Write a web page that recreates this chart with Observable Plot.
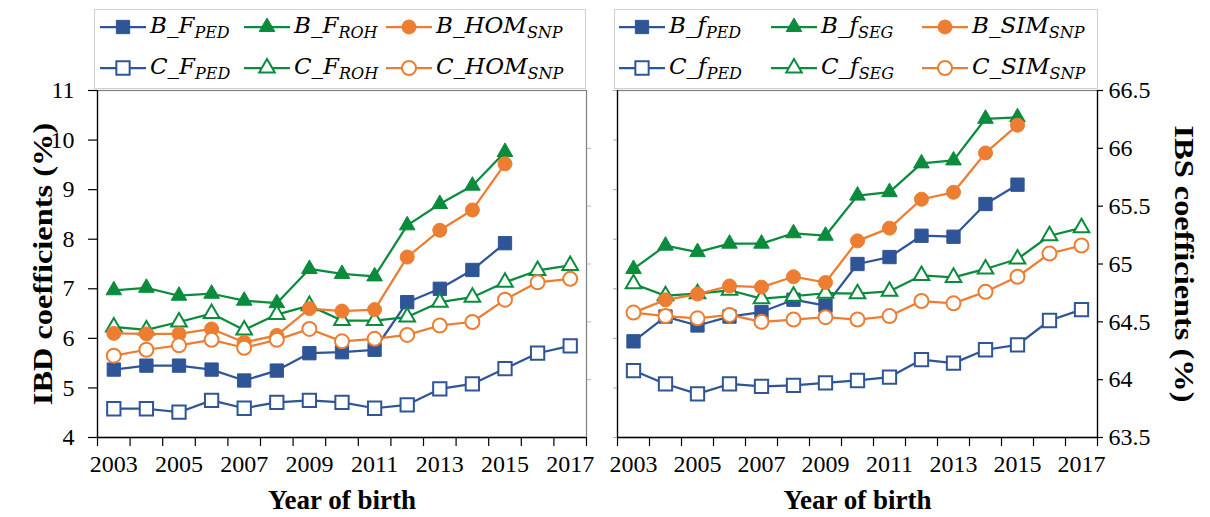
<!DOCTYPE html>
<html><head><meta charset="utf-8">
<script src="https://cdn.jsdelivr.net/npm/d3@7"></script>
<script src="https://cdn.jsdelivr.net/npm/@observablehq/plot@0.6"></script>
<style>
body{margin:0;background:#fff;}
#root{position:relative;width:1210px;height:517px;overflow:hidden;font-family:"Liberation Serif",serif;background:#fff;}
.legend{position:absolute;top:9px;height:80px;border:1px solid #d0d0d0;box-sizing:border-box;background:#fff;}
.item{position:absolute;display:flex;align-items:center;height:30px;white-space:nowrap;}
.item .lab{font-family:"DejaVu Serif",serif;font-style:italic;font-size:23px;margin-left:4px;}
.item sub{font-size:16px;vertical-align:-5px;}
.plot{position:absolute;top:80px;}
</style></head><body><div id="root"></div>
<script>
// ---------- data ----------
const years = [2003,2004,2005,2006,2007,2008,2009,2010,2011,2012,2013,2014,2015,2016,2017];
const yearTickLabels = [2003,2005,2007,2009,2011,2013,2015,2017];
const ibdTicks = [4,5,6,7,8,9,10,11];
const ibsTicks = [63.5,64,64.5,65,65.5,66,66.5];

// left panel (IBD coefficients, %)
const B_F_PED   = [5.37,5.45,5.45,5.37,5.15,5.35,5.70,5.72,5.77,6.73,7.00,7.38,7.92];
const B_F_ROH   = [6.97,7.02,6.86,6.90,6.76,6.71,7.40,7.30,7.25,8.28,8.71,9.08,9.76];
const B_HOM_SNP = [6.10,6.09,6.09,6.19,5.92,6.06,6.60,6.55,6.58,7.64,8.18,8.59,9.52];
const C_F_PED   = [4.58,4.58,4.51,4.75,4.59,4.71,4.75,4.71,4.59,4.66,4.98,5.08,5.39,5.70,5.85];
const C_F_ROH   = [6.23,6.17,6.33,6.50,6.17,6.48,6.66,6.36,6.36,6.43,6.73,6.83,7.13,7.37,7.47];
const C_HOM_SNP = [5.65,5.77,5.86,5.97,5.81,5.97,6.19,5.94,5.99,6.07,6.26,6.33,6.78,7.13,7.20];

// right panel (f_PED, f_SEG on IBD axis; SIM_SNP on IBS axis, %)
const B_f_PED   = [5.94,6.44,6.26,6.44,6.53,6.78,6.66,7.50,7.64,8.07,8.05,8.71,9.10];
const B_f_SEG   = [7.40,7.87,7.74,7.91,7.91,8.12,8.07,8.88,8.95,9.53,9.59,10.43,10.46];
const B_SIM_SNP = [64.58,64.69,64.74,64.81,64.80,64.89,64.84,65.20,65.31,65.56,65.62,65.96,66.20];
const C_f_PED   = [5.35,5.08,4.88,5.08,5.03,5.05,5.10,5.15,5.22,5.57,5.50,5.77,5.87,6.36,6.58];
const C_f_SEG   = [7.10,6.86,6.90,6.97,6.80,6.85,6.91,6.90,6.95,7.27,7.23,7.40,7.60,8.07,8.23];
const C_SIM_SNP = [64.58,64.55,64.53,64.56,64.50,64.52,64.54,64.52,64.55,64.68,64.66,64.76,64.89,65.09,65.16];

// ---------- styles ----------
const BLUE = "#2F5597", GREEN = "#0B8B3C", ORANGE = "#ED7D31";
const R = {square: 7.5, triangle: 5.8, circle: 7};

const root = document.getElementById("root");
const toLeft = v => 4 + (v - 63.5) * 7 / 3;      // IBS axis -> IBD axis position
const fromLeft = v => 63.5 + (v - 4) * 3 / 7;

function seriesMarks(vals, color, symbol, filled, conv) {
  const data = vals.map((v, i) => ({year: years[i], value: conv ? conv(v) : v}));
  return [
    Plot.line(data, {x: "year", y: "value", stroke: color, strokeWidth: 2.25}),
    Plot.dot(data, {x: "year", y: "value", symbol, r: R[symbol],
      fill: filled ? color : "white", stroke: color, strokeWidth: filled ? 1 : 2})
  ];
}

const bounds = d3.range(2002.5, 2018, 1);
function commonMarks() {
  return [
    Plot.frame({stroke: "#7f7f7f", strokeWidth: 1.2}),
    Plot.ruleX([2002.5], {stroke: "#000", strokeWidth: 1.3}),
    Plot.ruleY([4], {stroke: "#000", strokeWidth: 1.3}),
    Plot.axisX({ticks: bounds, tickSize: 9, tickFormat: () => "", label: null, strokeWidth: 1.2}),
    Plot.axisX({ticks: yearTickLabels, tickSize: 0, tickPadding: 17, tickFormat: d => String(d), label: null, fontSize: 24}),
    Plot.text(["Year of birth"], {frameAnchor: "bottom", dy: 71, fontSize: 27, fontWeight: "bold", fill: "#000"})
  ];
}

// ---------- left plot ----------
const left = Plot.plot({
  width: 600, height: 437,
  marginTop: 10, marginBottom: 80, marginLeft: 97, marginRight: 14,
  x: {type: "linear", domain: [2002.5, 2017.5]},
  y: {domain: [4, 11]},
  style: {fontFamily: "Liberation Serif", fontSize: "24px", color: "#000", background: "transparent", overflow: "visible"},
  marks: [
    ...commonMarks(),
    Plot.axisY({ticks: ibdTicks, tickSize: 9, tickPadding: 14, tickFormat: d => String(d), label: null, fontSize: 24, strokeWidth: 1.2}),
    Plot.axisY({anchor: "right", ticks: [64, 64.5, 65, 65.5, 66].map(toLeft), tickSize: 4, tickFormat: () => "", label: null, stroke: "#bbb"}),
    Plot.text(["IBD coefficients (%)"], {frameAnchor: "left", textAnchor: "middle", lineAnchor: "middle", rotate: -90, dx: -54, fontSize: 27, fontWeight: "bold", fill: "#000"}),
    ...seriesMarks(B_F_PED, BLUE, "square", true),
    ...seriesMarks(C_F_PED, BLUE, "square", false),
    ...seriesMarks(B_F_ROH, GREEN, "triangle", true),
    ...seriesMarks(C_F_ROH, GREEN, "triangle", false),
    ...seriesMarks(B_HOM_SNP, ORANGE, "circle", true),
    ...seriesMarks(C_HOM_SNP, ORANGE, "circle", false)
  ]
});
left.classList.add("plot");
left.style.left = "0px";
root.appendChild(left);

// ---------- right plot ----------
const right = Plot.plot({
  width: 610, height: 437,
  marginTop: 10, marginBottom: 80, marginLeft: 17, marginRight: 113,
  x: {type: "linear", domain: [2002.5, 2017.5]},
  y: {domain: [4, 11]},
  style: {fontFamily: "Liberation Serif", fontSize: "24px", color: "#000", background: "transparent", overflow: "visible"},
  marks: [
    ...commonMarks(),
    Plot.ruleX([2017.5], {stroke: "#000", strokeWidth: 1.3}),
    Plot.axisY({ticks: ibdTicks, tickSize: 4, tickFormat: () => "", label: null, stroke: "#aaa"}),
    Plot.axisY({anchor: "right", ticks: ibsTicks.map(toLeft), tickSize: 5, tickPadding: 6,
      tickFormat: d => String(+fromLeft(d).toFixed(1)), label: null, fontSize: 24, strokeWidth: 1.2}),
    Plot.text(["IBS coefficients (%)"], {frameAnchor: "right", textAnchor: "middle", lineAnchor: "middle", rotate: 90, dx: 86, fontSize: 27, fontWeight: "bold", fill: "#000"}),
    ...seriesMarks(B_f_PED, BLUE, "square", true),
    ...seriesMarks(C_f_PED, BLUE, "square", false),
    ...seriesMarks(B_f_SEG, GREEN, "triangle", true),
    ...seriesMarks(C_f_SEG, GREEN, "triangle", false),
    ...seriesMarks(B_SIM_SNP, ORANGE, "circle", true, toLeft),
    ...seriesMarks(C_SIM_SNP, ORANGE, "circle", false, toLeft)
  ]
});
right.classList.add("plot");
right.style.left = "600px";
root.appendChild(right);

// stretch rotated titles along their length (reference text is taller than wide)
for (const svg of [left, right]) {
  d3.select(svg).selectAll("text").filter(function() {
    return /coefficients/.test(this.textContent);
  }).each(function() {
    const t = this.getAttribute("transform") || "";
    this.setAttribute("transform", t + " scale(1.2,1)");
  });
}

// ---------- legends ----------
function legendBox(x, w) {
  const d = document.createElement("div");
  d.className = "legend";
  d.style.left = x + "px"; d.style.width = w + "px";
  root.appendChild(d);
}
function markerSvg(color, symbol, filled) {
  const r = R[symbol];
  const path = d3.symbol(symbol === "square" ? d3.symbolSquare : symbol === "triangle" ? d3.symbolTriangle : d3.symbolCircle, Math.PI * r * r)();
  return `<svg width="46" height="22" style="overflow:visible"><line x1="0" x2="46" y1="11" y2="11" stroke="${color}" stroke-width="2.25"/>` +
    `<path transform="translate(23,11)" d="${path}" fill="${filled ? color : "white"}" stroke="${color}" stroke-width="${filled ? 1 : 2}"/></svg>`;
}
function legendItem(x, y, color, symbol, filled, html) {
  const d = document.createElement("div");
  d.className = "item";
  d.style.left = x + "px"; d.style.top = (y - 15) + "px";
  d.innerHTML = markerSvg(color, symbol, filled) + `<span class="lab">${html}</span>`;
  root.appendChild(d);
}
legendBox(94, 492);
legendBox(614, 484);
const leftCols = [100, 244, 386], rightCols = [619, 771, 922];
const rows = [27, 68];
const leftLabels = [
  ["B_F<sub>PED</sub>", "B_F<sub>ROH</sub>", "B_HOM<sub>SNP</sub>"],
  ["C_F<sub>PED</sub>", "C_F<sub>ROH</sub>", "C_HOM<sub>SNP</sub>"]
];
const rightLabels = [
  ["B_f<sub>PED</sub>", "B_f<sub>SEG</sub>", "B_SIM<sub>SNP</sub>"],
  ["C_f<sub>PED</sub>", "C_f<sub>SEG</sub>", "C_SIM<sub>SNP</sub>"]
];
const colColors = [BLUE, GREEN, ORANGE], colSymbols = ["square", "triangle", "circle"];
for (let r = 0; r < 2; r++) for (let c = 0; c < 3; c++) {
  legendItem(leftCols[c], rows[r], colColors[c], colSymbols[c], r === 0, leftLabels[r][c]);
  legendItem(rightCols[c], rows[r], colColors[c], colSymbols[c], r === 0, rightLabels[r][c]);
}
</script></body></html>
